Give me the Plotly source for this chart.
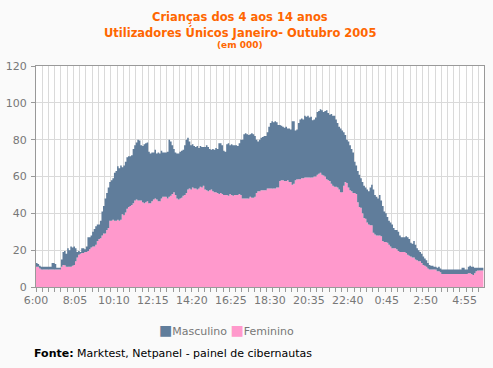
import plotly.graph_objects as go

# time slots: minutes after 6:00, every 5 minutes (288 slots)
minutes = list(range(0, 1440, 5))
tick_minutes = [0, 125, 250, 375, 500, 625, 750, 875, 1000, 1125, 1250, 1375]
tick_labels = ["6:00", "8:05", "10:10", "12:15", "14:20", "16:25", "18:30",
               "20:35", "22:40", "0:45", "2:50", "4:55"]

# Total (Masculino + Feminino), in thousands
total = [
    13, 12.5, 11.5, 11, 11, 11, 11, 11, 11, 11, 13, 13,
    12.5, 10.5, 10.5, 10.5, 15, 19, 19.5, 18, 21, 20, 22, 21.5,
    22, 21, 19, 19.5, 19, 21, 21, 20.5, 22, 27, 27, 28,
    30, 31.5, 33, 34, 34, 36, 41, 44, 48, 51, 54, 57,
    58, 59, 62, 63, 65.5, 64.5, 66, 65, 66, 68, 70.5, 71,
    71, 71.5, 75, 77, 78.5, 80, 79.5, 77, 76.5, 77.5, 78, 78.5,
    73.5, 72.5, 73, 73, 74.5, 72.5, 73, 72.5, 74, 73, 73, 73,
    73.5, 80, 79, 77, 75, 73, 72.5, 72.5, 73.5, 74, 74.5, 77,
    80, 81, 79, 77, 77.5, 76.5, 76, 76.5, 75.5, 76.5, 76, 76,
    76, 77, 76, 75, 74.5, 75, 74.5, 75.5, 75, 78, 78, 77,
    74, 73.5, 77.5, 78, 77, 77.5, 77, 77, 77, 76.5, 78, 80,
    80, 83, 83.5, 83, 82.5, 83, 83.5, 83, 82, 80, 79, 80,
    81, 81.5, 82, 82, 84, 87, 89, 90, 89.5, 90, 89.5, 88,
    88, 87.5, 87, 86.5, 87, 86, 86, 85.5, 90, 90, 85, 85.5,
    89, 91, 91.5, 91, 93, 92.5, 93, 92, 92.5, 90.5, 91, 92,
    95, 95.5, 96.5, 96, 95, 95.5, 96, 94.5, 93.5, 94, 93, 93,
    91, 89, 87, 86, 85, 84, 82.5, 80, 79, 77, 75, 73,
    68, 66, 63, 61, 59, 57, 55, 54, 53, 52, 54, 55.5,
    53, 50, 49, 48, 50, 47, 44, 41, 40, 38, 36, 35,
    34, 32, 31, 31, 30, 28, 27, 27, 27, 27.5, 27, 26,
    24, 23.5, 25, 23, 21, 20, 19, 18, 16.5, 15.5, 14.5, 13,
    12, 11.5, 11.5, 11, 11, 10.5, 11, 10, 9.5, 9.5, 9.5, 9.5,
    9.5, 9.5, 9.5, 9.5, 9.5, 9.5, 9.5, 9.5, 9.5, 10.5, 10.5, 9.5,
    9.5, 11, 11.5, 11, 11, 10.5, 10.5, 10.5, 10.5, 10.5, 10.5, 10.5,
]

feminino = [
    11, 11, 10, 9.5, 9.5, 9.5, 9.5, 9.5, 9.5, 9.5, 9.5, 9.5,
    9.5, 9.5, 9.5, 9.5, 11, 12, 11.8, 11, 11, 11, 11, 11.5,
    12, 14, 16, 17.5, 18, 18.5, 18.5, 19, 19, 19.5, 20.5, 21.5,
    22, 22, 23, 25, 26, 26.5, 28, 29, 29, 31, 32, 36,
    36, 36.5, 36, 36, 36.5, 36, 36.5, 39.5, 39, 40.5, 42.5, 43.5,
    44, 44.5, 45.5, 47, 47.5, 47, 47, 47, 46, 45.5, 46, 46.5,
    45.5, 45.5, 46.5, 47.5, 48, 47.5, 46.5, 46.5, 48, 49, 49, 49,
    48, 49, 49.5, 50.5, 51.5, 50, 48, 47.5, 48, 48.5, 49.5, 50,
    51, 53, 53.5, 53, 54, 53.5, 53.5, 53, 53.5, 54.5, 54, 55,
    53, 52.5, 52, 52.5, 53, 52, 51.5, 51.5, 51, 50.5, 51, 50.5,
    50, 50, 50, 49.5, 50.5, 50, 49.5, 50, 50, 50, 50.5, 50,
    48, 48, 48, 48, 48, 49, 48.5, 48.5, 49, 51, 52, 52,
    52.5, 52.5, 52.5, 52.5, 53.5, 53.5, 53.5, 53.5, 53.5, 53.5, 54, 54,
    57.5, 58, 58, 57.5, 57.5, 58, 57, 57, 55.5, 56, 58, 58.5,
    58.5, 58.5, 59, 59, 59.5, 59.5, 59.5, 59.5, 59.5, 59.5, 60, 60,
    61, 61.5, 62, 61, 60.5, 60, 58.5, 58, 57.5, 56, 55, 54.5,
    54.5, 54, 53, 51.5, 51.5, 55, 57, 56.5, 54, 52.5, 52, 51,
    51, 50.5, 46, 43.5, 43, 40, 37.5, 37, 35, 34, 33.5, 33.5,
    29.5, 28.5, 28, 28, 28, 27.5, 25, 24.5, 24.5, 24, 23, 22,
    21, 21, 21, 20.5, 19.5, 19, 19, 19, 19, 18.5, 17.5, 17,
    16.5, 16, 16, 15, 14.5, 14, 14, 13, 12, 11.5, 11, 10,
    9.5, 9.5, 9.5, 9.5, 9.5, 8.5, 8.5, 8, 7, 7, 7, 7,
    7, 7, 7, 7, 7, 7, 7, 7, 7, 7, 7, 7,
    7, 7.5, 7.5, 7, 6.5, 7.5, 8.5, 9, 9, 9, 9, 9,
]

masculino = [t - f for t, f in zip(total, feminino)]

series_names = ["Masculino", "Feminino"]

FONT = "DejaVu Sans"
GRID = "#DADADA"
AXIS = "#999999"
TXT = "#777777"
C_MASC = "#607D9B"
C_FEM = "#FF99CC"
W, H = 493, 368
ML, MR, MT, MB = 36, 9, 66, 81
PW, PH = W - ML - MR, H - MT - MB


def xp(px):
    return (px - ML) / PW


def yp(py):
    return (H - MB - py) / PH


fig = go.Figure()
fig.add_trace(go.Scatter(
    x=minutes, y=feminino, name=series_names[1], stackgroup="one",
    line=dict(width=0, shape="hv"), fillcolor=C_FEM, mode="lines",
))
fig.add_trace(go.Scatter(
    x=minutes, y=masculino, name=series_names[0], stackgroup="one",
    line=dict(width=0, shape="hv"), fillcolor=C_MASC, mode="lines",
))

fig.update_layout(
    width=W, height=H,
    margin=dict(l=ML, r=MR, t=MT, b=MB, autoexpand=False),
    paper_bgcolor="#FAFAFA", plot_bgcolor="#FFFFFF",
    font=dict(family=FONT, size=11, color=TXT),
    showlegend=False,
)

# compact legend line: small coloured squares followed by the series names
legend_text = (
    f"<span style='color:{C_MASC};font-size:14px'>■</span>{series_names[0]} "
    f"<span style='color:{C_FEM};font-size:14px'>■</span>{series_names[1]}"
)
fig.add_annotation(text=legend_text, xref="paper", yref="paper",
                   x=xp(226), y=yp(330), xanchor="center", yanchor="middle",
                   showarrow=False, font=dict(size=11, color=TXT, family=FONT))

fig.add_annotation(text="<b>Crianças dos 4 aos 14 anos</b>", xref="paper", yref="paper",
                   x=xp(240), y=yp(17), showarrow=False,
                   font=dict(size=11.5, color="#FF6600", family=FONT), yanchor="middle")
fig.add_annotation(text="<b>Utilizadores Únicos Janeiro- Outubro 2005</b>", xref="paper", yref="paper",
                   x=xp(240), y=yp(32), showarrow=False,
                   font=dict(size=11.5, color="#FF6600", family=FONT), yanchor="middle")
fig.add_annotation(text="<b>(em 000)</b>", xref="paper", yref="paper",
                   x=xp(240), y=yp(45), showarrow=False,
                   font=dict(size=9, color="#FF6600", family=FONT), yanchor="middle")
fig.add_annotation(text="<b>Fonte:</b> Marktest, Netpanel - painel de cibernautas",
                   xref="paper", yref="paper", x=xp(32), y=yp(353),
                   xanchor="left", yanchor="middle", showarrow=False,
                   font=dict(size=11, color="#000000", family=FONT))

fig.update_xaxes(
    range=[0, 1437], tickvals=tick_minutes, ticktext=tick_labels, automargin=False,
    showgrid=False, zeroline=False, showline=True, linecolor=AXIS, mirror=True,
    ticks="", tickfont=dict(size=11, color=TXT), ticklabelstandoff=3,
    minor=dict(tick0=0, dtick=20, showgrid=True, gridcolor=GRID, gridwidth=1,
               ticks="outside", ticklen=4, tickcolor=AXIS),
)
fig.update_yaxes(
    range=[0, 120], dtick=20, showgrid=True, gridcolor=GRID, gridwidth=1, automargin=False,
    zeroline=False, showline=True, linecolor=AXIS, mirror=True,
    ticks="outside", ticklen=4, tickcolor=AXIS, tickfont=dict(size=11, color=TXT),
    ticklabelstandoff=2,
)

fig.write_html(
    "out.html",
    config={"displayModeBar": False},
    post_script="document.body.style.margin='0';document.body.style.background='#FAFAFA';",
)
